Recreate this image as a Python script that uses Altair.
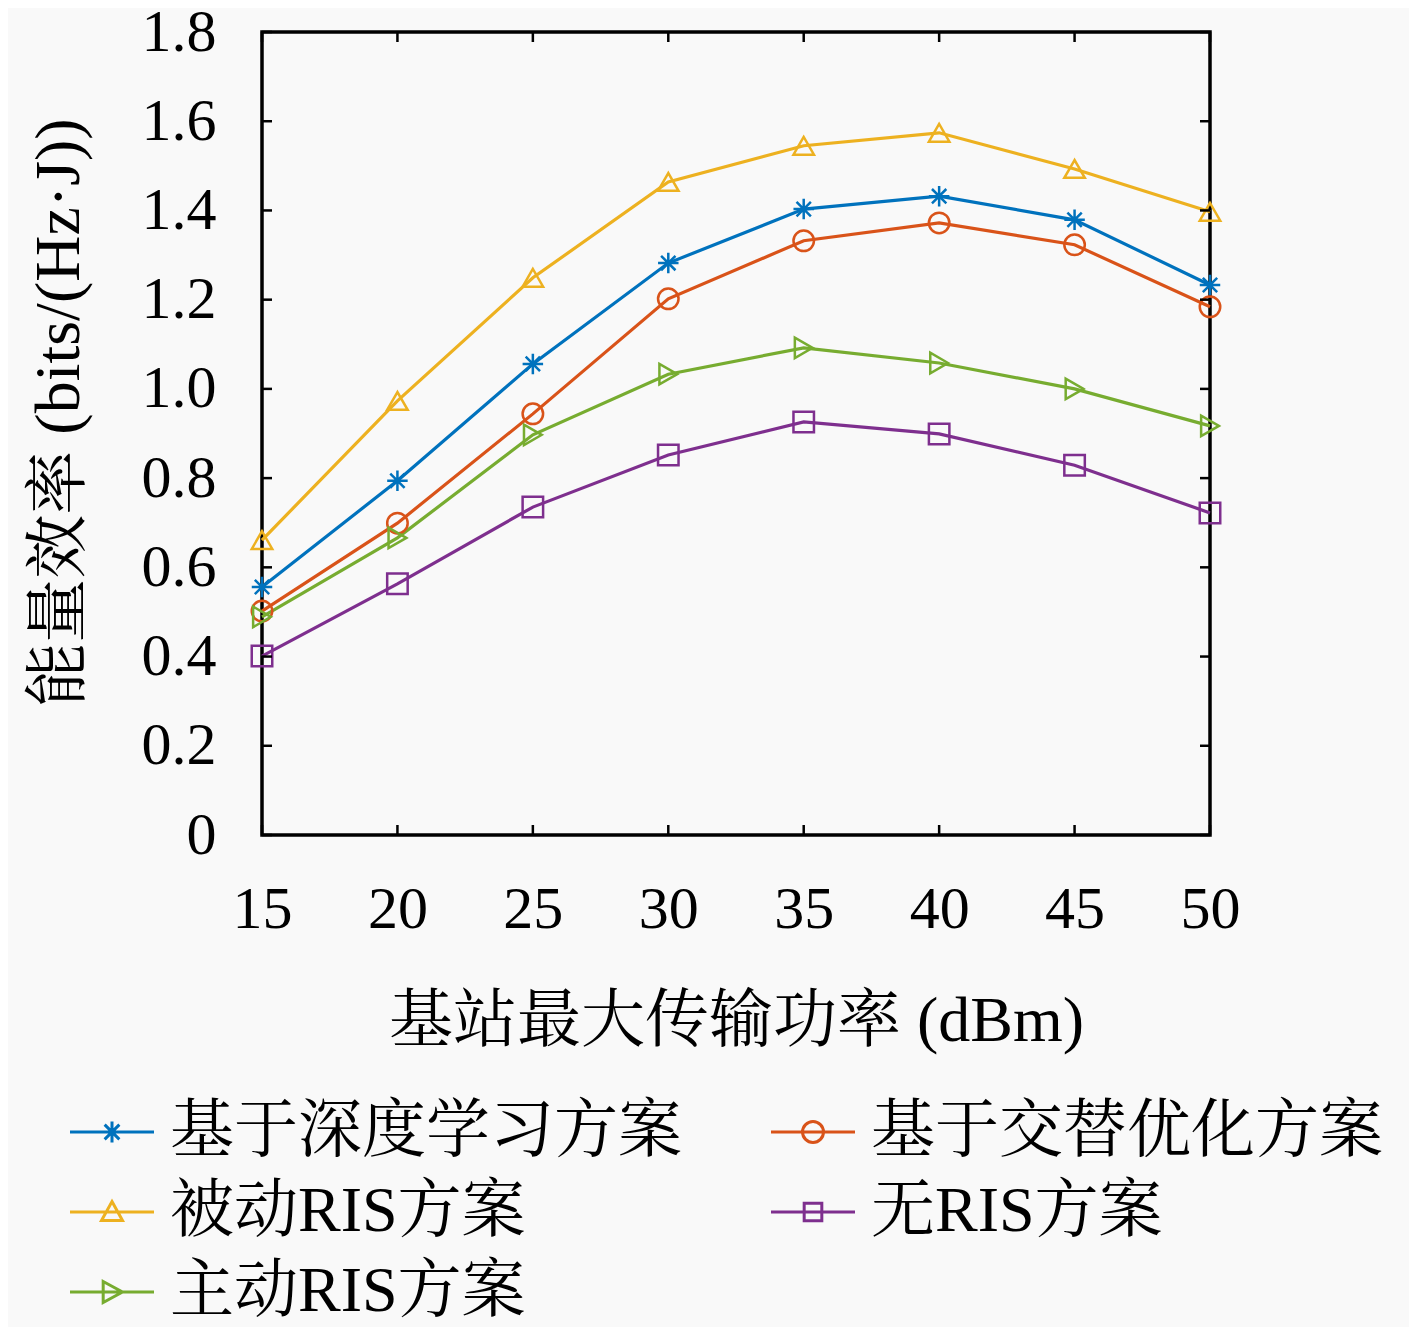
import altair as alt
import pandas as pd

power = [15, 20, 25, 30, 35, 40, 45, 50]

series_names = [
    "基于深度学习方案",
    "基于交替优化方案",
    "被动RIS方案",
    "无RIS方案",
    "主动RIS方案",
]
colors = ["#0072BD", "#D95319", "#EDB120", "#7E2F8E", "#77AC30"]

deep_learning = [0.556, 0.794, 1.056, 1.282, 1.403, 1.432, 1.379, 1.233]
alternating = [0.502, 0.699, 0.944, 1.202, 1.332, 1.372, 1.323, 1.184]
passive_ris = [0.661, 0.973, 1.249, 1.464, 1.545, 1.574, 1.493, 1.397]
no_ris = [0.401, 0.563, 0.735, 0.852, 0.926, 0.899, 0.829, 0.722]
active_ris = [0.489, 0.666, 0.897, 1.033, 1.092, 1.058, 1.000, 0.917]

x_ticks = [15, 20, 25, 30, 35, 40, 45, 50]
y_ticks = [0, 0.2, 0.4, 0.6, 0.8, 1.0, 1.2, 1.4, 1.6, 1.8]

# marker shapes in the plot
marker_paths = [
    "M-1,0L1,0M0,-1L0,1M-0.7,-0.7L0.7,0.7M-0.7,0.7L0.7,-0.7",
    "circle",
    "triangle-up",
    "square",
    "triangle-right",
]
# legend symbols: short line with the marker on it
legend_paths = [
    "M-2,0L2,0M0,-0.5L0,0.5M-0.35,-0.35L0.35,0.35M-0.35,0.35L0.35,-0.35",
    "M-2,0L2,0M-0.5,0A0.5,0.5,0,1,0,0.5,0A0.5,0.5,0,1,0,-0.5,0",
    "M-2,0L2,0M0,-0.5L0.5,0.4L-0.5,0.4Z",
    "M-2,0L2,0M-0.42,-0.42L0.42,-0.42L0.42,0.42L-0.42,0.42Z",
    "M-2,0L2,0M-0.42,-0.5L0.5,0L-0.42,0.5Z",
]
# the legend grid fills column by column; this order gives the reference rows
legend_order = [0, 2, 4, 1, 3]

SERIF = "Liberation Serif, Noto Serif CJK SC, Noto Sans CJK SC"
W, H = 948, 803

rows = []
for name, vals in zip(
    series_names, [deep_learning, alternating, passive_ris, no_ris, active_ris]
):
    for p, v in zip(power, vals):
        rows.append({"power": p, "ee": v, "scheme": name})
df = pd.DataFrame(rows)

x_enc = alt.X(
    "power:Q",
    title="基站最大传输功率 (dBm)",
    scale=alt.Scale(domain=[15, 50], nice=False, zero=False),
    axis=alt.Axis(
        values=x_ticks,
        tickSize=0,
        domain=False,
        grid=False,
        labelFlush=False,
        labelPadding=45,
        titlePadding=50,
        titleFontSize=64,
        titleFontWeight="normal",
    ),
)
y_enc = alt.Y(
    "ee:Q",
    title="能量效率 (bits/(Hz·J))",
    scale=alt.Scale(domain=[0, 1.8], nice=False),
    axis=alt.Axis(
        values=y_ticks,
        labelExpr="datum.value == 0 ? '0' : format(datum.value, '.1f')",
        labelFlush=False,
        tickSize=0,
        domain=False,
        grid=False,
        labelPadding=46,
        titlePadding=50,
        titleFontSize=64,
        titleFontWeight="normal",
        titleY=380,
    ),
)


def color_scale():
    return alt.Scale(domain=series_names, range=colors)


lines = (
    alt.Chart(df)
    .mark_line(strokeWidth=3.2)
    .encode(
        x=x_enc,
        y=y_enc,
        color=alt.Color("scheme:N", scale=color_scale(), legend=None),
    )
)
points = (
    alt.Chart(df)
    .mark_point(filled=False, strokeWidth=2.5, size=420, opacity=1)
    .encode(
        x="power:Q",
        y="ee:Q",
        color=alt.Color("scheme:N", scale=color_scale(), legend=None),
        shape=alt.Shape(
            "scheme:N",
            scale=alt.Scale(domain=series_names, range=marker_paths),
            legend=None,
        ),
    )
)

legend = alt.Legend(
    title=None,
    orient="none",
    legendX=-182,
    legendY=1068,
    columns=2,
    columnPadding=83,
    rowPadding=16,
    symbolSize=1764,
    symbolStrokeWidth=3,
    symbolOpacity=1,
    labelOffset=26,
    labelFontSize=64,
    labelFont=SERIF,
    labelColor="black",
    labelLimit=800,
    padding=0,
)
# invisible layer that only carries the legend (line + marker symbols)
legend_layer = (
    alt.Chart(df)
    .mark_point(filled=False, opacity=0, size=1)
    .encode(
        x="power:Q",
        y="ee:Q",
        color=alt.Color(
            "scheme:N",
            scale=alt.Scale(
                domain=[series_names[i] for i in legend_order],
                range=[colors[i] for i in legend_order],
            ),
            legend=legend,
        ),
        shape=alt.Shape(
            "scheme:N",
            scale=alt.Scale(
                domain=[series_names[i] for i in legend_order],
                range=[legend_paths[i] for i in legend_order],
            ),
            legend=legend,
        ),
    )
)

xt = pd.DataFrame({"power": x_ticks})
yt = pd.DataFrame({"ee": y_ticks})
tick_bottom = alt.Chart(xt).mark_rule(color="black", strokeWidth=2.5).encode(
    x="power:Q", y=alt.value(H), y2=alt.value(H - 10)
)
tick_top = alt.Chart(xt).mark_rule(color="black", strokeWidth=2.5).encode(
    x="power:Q", y=alt.value(0), y2=alt.value(10)
)
tick_left = alt.Chart(yt).mark_rule(color="black", strokeWidth=2.5).encode(
    y="ee:Q", x=alt.value(0), x2=alt.value(10)
)
tick_right = alt.Chart(yt).mark_rule(color="black", strokeWidth=2.5).encode(
    y="ee:Q", x=alt.value(W), x2=alt.value(W - 10)
)

chart = (
    alt.layer(
        lines, points, legend_layer, tick_bottom, tick_top, tick_left, tick_right
    )
    .resolve_scale(shape="independent", color="independent")
    .properties(
        width=W,
        height=H,
        background="#f9f9f9",
        autosize=alt.AutoSizeParams(type="none"),
        padding={"left": 254, "top": 24, "right": 199, "bottom": 492},
    )
    .configure_view(stroke="black", strokeWidth=3.5)
    .configure_axis(
        labelFont=SERIF,
        labelFontSize=60,
        labelColor="black",
        titleFont=SERIF,
        titleFontSize=64,
        titleFontWeight="normal",
        titleColor="black",
    )
)

chart.save("out.html", embed_options={"renderer": "svg", "actions": False})
